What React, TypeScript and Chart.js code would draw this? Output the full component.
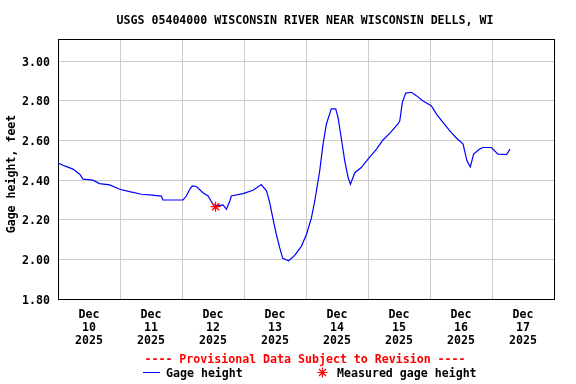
import React, { useEffect, useRef } from 'react';
import { Chart, registerables } from 'chart.js';

Chart.register(...registerables);

const TITLE = 'USGS 05404000 WISCONSIN RIVER NEAR WISCONSIN DELLS, WI';
const Y_TITLE = 'Gage height, feet';
const PROVISIONAL = '---- Provisional Data Subject to Revision ----';
const SERIES_LABEL = 'Gage height';
const MEASURED_LABEL = 'Measured gage height';
const MONTH = 'Dec';
const YEAR = '2025';
const DAYS = ['10', '11', '12', '13', '14', '15', '16', '17'];
const Y_TICKS = [1.8, 2.0, 2.2, 2.4, 2.6, 2.8, 3.0];
const Y_MIN = 1.8;
const Y_MAX = 3.113;

// hours since Dec 10 00:00
const HOURS = [
  0, 2.6, 5.8, 8.4, 9.7, 13.5, 16.1, 20.0, 23.9, 27.7, 32.3, 35.5, 40.0, 40.6,
  48.4, 49.7, 51.0, 52.0, 53.6, 56.1, 58.1, 60.0, 61.3, 63.9, 65.2, 66.5, 67.1,
  71.6, 75.5, 78.7, 80.7, 81.9, 83.2, 84.5, 85.8, 87.0, 89.3, 91.6, 94.2, 96.2,
  98.1, 99.4, 101.3, 102.6, 103.9, 105.8, 107.5, 108.4, 109.7, 111.0, 112.3,
  113.2, 114.9, 117.4, 120.0, 123.3, 125.8, 128.4, 131.6, 132.3, 133.3, 134.6,
  136.8, 138.7, 141.3, 144.5, 146.5, 149.0, 151.6, 154.2, 156.8, 158.3, 159.6,
  160.9, 163.2, 164.5, 167.8, 170.3, 173.6, 174.2, 174.9,
];
const GAGE = [
  2.486, 2.472, 2.456, 2.43, 2.405, 2.4, 2.383, 2.376, 2.354, 2.342, 2.329, 2.326,
  2.32, 2.3, 2.3, 2.32, 2.354, 2.371, 2.368, 2.337, 2.32, 2.278, 2.27, 2.275,
  2.253, 2.295, 2.32, 2.332, 2.349, 2.378, 2.346, 2.29, 2.206, 2.127, 2.059,
  2.005, 1.993, 2.02, 2.066, 2.127, 2.21, 2.295, 2.447, 2.582, 2.684, 2.76,
  2.76, 2.717, 2.608, 2.498, 2.413, 2.38, 2.438, 2.464, 2.506, 2.557, 2.603,
  2.636, 2.684, 2.7, 2.793, 2.84, 2.844, 2.827, 2.8, 2.776, 2.734, 2.692, 2.65,
  2.613, 2.582, 2.498, 2.467, 2.532, 2.557, 2.565, 2.565, 2.532, 2.529, 2.54,
  2.557,
];
const MEASURED_HOURS = [61.0];
const MEASURED_VALUES = [2.266];

const FONT_FAMILY = '"DejaVu Sans Mono", "Liberation Mono", monospace';
const FONT_SIZE = 11.6;
const CSS_FONT = `bold ${FONT_SIZE}px ${FONT_FAMILY}`;

const drawStar = (ctx: CanvasRenderingContext2D, x: number, y: number, r: number) => {
  const d = r * Math.SQRT1_2;
  ctx.beginPath();
  ctx.moveTo(x - r, y); ctx.lineTo(x + r, y);
  ctx.moveTo(x, y - r); ctx.lineTo(x, y + r);
  ctx.moveTo(x - d, y - d); ctx.lineTo(x + d, y + d);
  ctx.moveTo(x - d, y + d); ctx.lineTo(x + d, y - d);
  ctx.stroke();
};

const decorPlugin = {
  id: 'usgsDecor',
  beforeDatasetsDraw(chart: any) {
    const { ctx, chartArea } = chart;
    ctx.save();
    ctx.strokeStyle = '#000000';
    ctx.lineWidth = 1;
    ctx.strokeRect(
      Math.round(chartArea.left) + 0.5,
      Math.round(chartArea.top) + 0.5,
      Math.round(chartArea.right - chartArea.left),
      Math.round(chartArea.bottom - chartArea.top)
    );
    ctx.restore();
  },
  afterDraw(chart: any) {
    const { ctx } = chart;
    ctx.save();
    ctx.font = CSS_FONT;
    ctx.textBaseline = 'middle';
    // title
    ctx.fillStyle = '#000000';
    ctx.textAlign = 'center';
    ctx.fillText(TITLE, 305, 21);
    // y-axis title
    ctx.save();
    ctx.translate(12, 174);
    ctx.rotate(-Math.PI / 2);
    ctx.fillText(Y_TITLE, 0, 0);
    ctx.restore();
    // provisional
    ctx.fillStyle = '#ff0000';
    ctx.fillText(PROVISIONAL, 305, 359.5);
    // legend
    ctx.strokeStyle = '#0000ff';
    ctx.lineWidth = 1;
    ctx.beginPath();
    ctx.moveTo(143, 372.5);
    ctx.lineTo(160, 372.5);
    ctx.stroke();
    ctx.fillStyle = '#000000';
    ctx.textAlign = 'left';
    ctx.fillText(SERIES_LABEL, 166, 373.5);
    ctx.strokeStyle = '#ff0000';
    ctx.lineWidth = 1.2;
    drawStar(ctx, 322.5, 372.5, 5);
    ctx.fillText(MEASURED_LABEL, 337, 373.5);
    ctx.restore();
  },
};

export default function App() {
  const canvasRef = useRef<HTMLCanvasElement | null>(null);

  useEffect(() => {
    const canvas = canvasRef.current;
    if (!canvas) return;
    const font = { family: FONT_FAMILY, size: FONT_SIZE, weight: 'bold' as const, lineHeight: '13px' };
    const gageData = HOURS.map((h, i) => ({ x: h, y: GAGE[i] }));
    const measuredData = MEASURED_HOURS.map((h, i) => ({ x: h, y: MEASURED_VALUES[i] }));
    const xTickValues: number[] = [];
    DAYS.forEach((_, i) => {
      xTickValues.push(i * 24, i * 24 + 12);
    });
    xTickValues.push(DAYS.length * 24);

    const chart = new Chart(canvas, {
      type: 'line',
      data: {
        datasets: [
          {
            label: MEASURED_LABEL,
            data: measuredData,
            showLine: false,
            pointStyle: 'star',
            pointRadius: 5,
            pointBorderColor: '#ff0000',
            pointBackgroundColor: '#ff0000',
            pointBorderWidth: 1.3,
            borderColor: '#ff0000',
          },
          {
            label: SERIES_LABEL,
            data: gageData,
            borderColor: '#0000ff',
            borderWidth: 1.2,
            pointRadius: 0,
            tension: 0,
            fill: false,
          },
        ],
      },
      options: {
        responsive: false,
        animation: false,
        devicePixelRatio: 1,
        layout: { padding: { top: 39, right: 22, bottom: 0, left: 0 } },
        plugins: {
          legend: { display: false },
          title: { display: false },
          tooltip: { enabled: false },
        },
        scales: {
          x: {
            type: 'linear',
            min: 0,
            max: DAYS.length * 24,
            afterBuildTicks: (s: any) => {
              s.ticks = xTickValues.map((v) => ({ value: v }));
            },
            afterFit: (s: any) => {
              s.height = 85;
            },
            ticks: {
              autoSkip: false,
              maxRotation: 0,
              minRotation: 0,
              padding: 9,
              color: '#000000',
              font,
              callback: (v: any) => {
                const i = (Number(v) - 12) / 24;
                if (Number.isInteger(i) && DAYS[i]) return [MONTH, DAYS[i], YEAR];
                return '';
              },
            },
            grid: {
              drawTicks: false,
              lineWidth: 1,
              color: (ctx: any) =>
                ctx.tick && ctx.tick.value % 24 === 0 ? '#cccccc' : 'rgba(0,0,0,0)',
            },
            border: { display: false },
          },
          y: {
            type: 'linear',
            min: Y_MIN,
            max: Y_MAX,
            afterBuildTicks: (s: any) => {
              s.ticks = Y_TICKS.map((v) => ({ value: v }));
            },
            afterFit: (s: any) => {
              s.width = 58;
            },
            ticks: {
              padding: 8,
              labelOffset: 1.5,
              color: '#000000',
              font,
              callback: (v: any) => Number(v).toFixed(2),
            },
            grid: { drawTicks: false, color: '#cccccc', lineWidth: 1 },
            border: { display: false },
          },
        },
      },
      plugins: [decorPlugin],
    } as any);

    return () => {
      chart.destroy();
    };
  }, []);

  return (
    <div style={{ position: 'absolute', left: 0, top: 0, width: 576, height: 384, background: '#ffffff' }}>
      <canvas ref={canvasRef} width={576} height={384} style={{ display: 'block' }} />
    </div>
  );
}
